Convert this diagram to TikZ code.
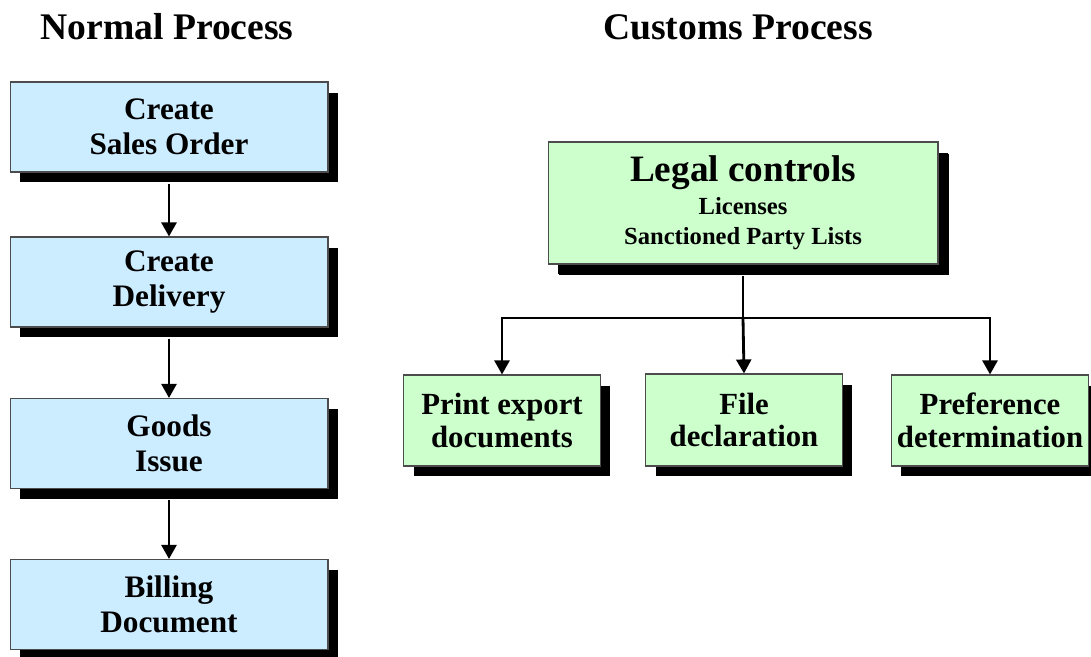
\documentclass[tikz,border=0pt]{standalone}
\usepackage{fontspec}
\setmainfont{Liberation Serif}
\usetikzlibrary{shadows,arrows.meta}
\definecolor{stepblue}{HTML}{CCECFF}
\definecolor{stepgreen}{HTML}{CCFFCC}
\tikzset{
  procbox/.style={draw=black!70, line width=0.6pt, align=center, font=\bfseries\fontsize{17.8}{20}\selectfont,
    drop shadow={shadow xshift=0.2cm, shadow yshift=-0.21cm, fill=black, opacity=1}},
  custbox/.style={procbox, fill=stepgreen, font=\bfseries\fontsize{17.5}{18.5}\selectfont},
  flow/.style={line width=1.6pt, -{Triangle[width=8.5pt,length=8pt]}},
}
\begin{document}
\begin{tikzpicture}[x=0.02cm,y=-0.02cm]
\useasboundingbox (0,0) rectangle (1091,656);
\node[font=\bfseries\fontsize{21.4}{24}\selectfont] (normal) at (167,27) {Normal Process};
\node[font=\bfseries\fontsize{21.4}{24}\selectfont] (customs) at (738,27) {Customs Process};
% normal process
\node[procbox, fill=stepblue, minimum width=6.36cm, minimum height=1.8cm] (order) at (169,127) {Create\\Sales Order};
\node[procbox, fill=stepblue, minimum width=6.36cm, minimum height=1.8cm] (delivery) at (169,282) {Create\\Delivery};
\node[procbox, fill=stepblue, minimum width=6.36cm, minimum height=1.8cm] (issue) at (169,443.5) {Goods\\Issue};
\node[procbox, fill=stepblue, minimum width=6.36cm, minimum height=1.8cm] (billing) at (169,604.5) {Billing\\Document};
\draw[flow] ([yshift=-0.22cm]order.south) -- (delivery.north);
\draw[flow] ([yshift=-0.22cm]delivery.south) -- (issue.north);
\draw[flow] ([yshift=-0.22cm]issue.south) -- (billing.north);
% customs process
\node[procbox, fill=stepgreen, minimum width=7.8cm, minimum height=2.44cm, font=\bfseries\fontsize{14}{17}\selectfont,
  drop shadow={shadow xshift=0.22cm, shadow yshift=-0.23cm, fill=black, opacity=1}] (legal) at (743,203)
  {{\fontsize{21.2}{25}\selectfont Legal controls}\\[1.7pt]
   Licenses\\
   Sanctioned Party Lists};
\node[custbox, minimum width=3.94cm, minimum height=1.82cm] (print) at (502,420.5) {Print export\\documents};
\node[custbox, minimum width=3.94cm, minimum height=1.84cm] (file) at (744,420) {File\\declaration};
\node[custbox, minimum width=3.92cm, minimum height=1.82cm] (pref) at (990,420.5) {Preference\\determination};
\coordinate (split) at (743,318);
\draw[line width=1.6pt] ([yshift=-0.23cm]legal.south) -- (split);
\draw[flow] (split) -| (print.north);
\draw[flow] (split) -| (pref.north);
\draw[flow] (split) -- (file.north);
\end{tikzpicture}
\end{document}
